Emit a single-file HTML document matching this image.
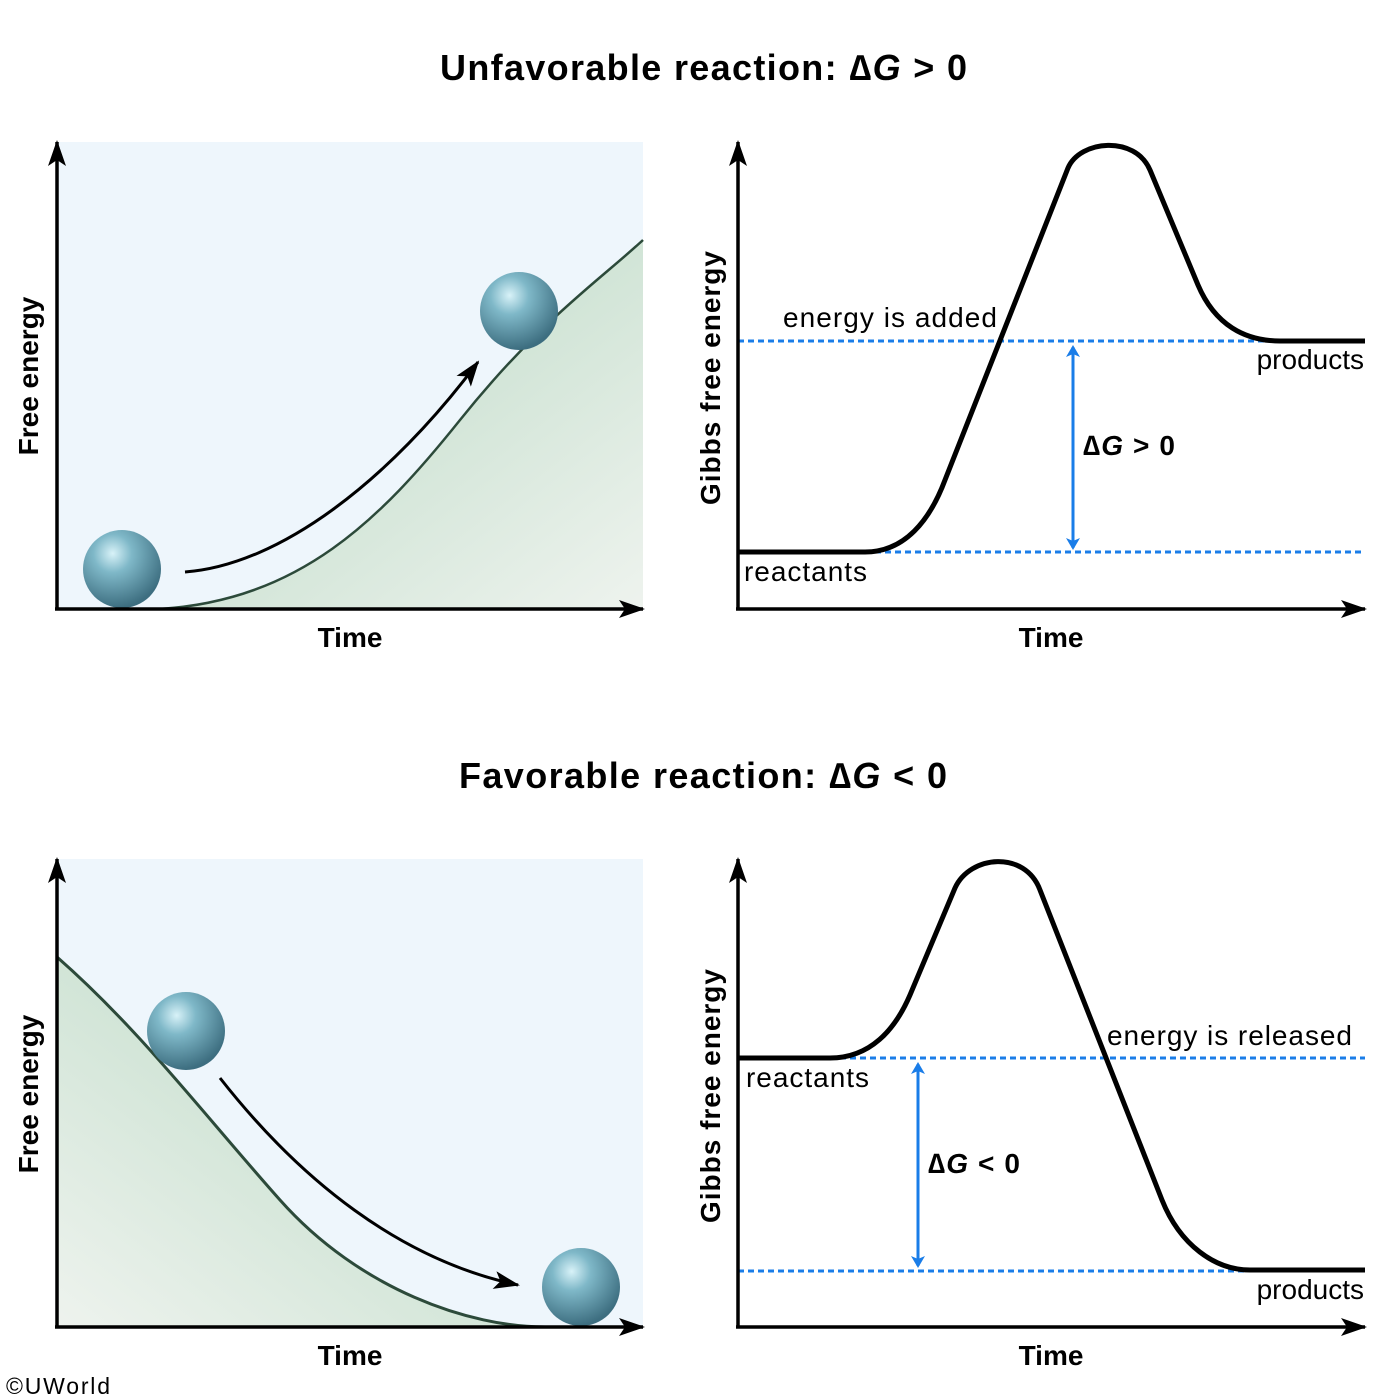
<!DOCTYPE html>
<html><head><meta charset="utf-8"><style>body{margin:0;background:#fff}svg{display:block}text{font-family:"Liberation Sans",Arial,sans-serif}</style></head><body>
<svg width="1400" height="1400" viewBox="0 0 1400 1400" xmlns="http://www.w3.org/2000/svg">
<defs>
<radialGradient id="ball" cx="0.38" cy="0.3" r="0.7">
<stop offset="0" stop-color="#d8f2f8"/><stop offset="0.35" stop-color="#7fb8c8"/><stop offset="1" stop-color="#3d6e80"/></radialGradient>
<linearGradient id="g1" x1="0" y1="0" x2="1" y2="1"><stop offset="0" stop-color="#b4d6bf"/><stop offset="1" stop-color="#eef3ee"/></linearGradient>
<linearGradient id="g2" x1="1" y1="0" x2="0" y2="1"><stop offset="0" stop-color="#b4d6bf"/><stop offset="1" stop-color="#eef3ee"/></linearGradient>
<marker id="ab" markerWidth="12" markerHeight="14" refX="10" refY="7" orient="auto" markerUnits="userSpaceOnUse"><path d="M0,0 L12,7 L0,14 L3,7 Z" fill="#1a7de8"/></marker>
<marker id="ak" markerWidth="26" markerHeight="18" refX="24" refY="9" orient="auto" markerUnits="userSpaceOnUse"><path d="M0,0 L26,9 L0,18 L6,9 Z" fill="#000"/></marker>
</defs>
<text x="440" y="80" font-size="36" font-weight="bold" textLength="527" lengthAdjust="spacing">Unfavorable reaction:  ∆<tspan font-style="italic">G</tspan> &gt; 0</text>
<text x="459" y="788" font-size="36" font-weight="bold" textLength="488" lengthAdjust="spacing">Favorable reaction:  ∆<tspan font-style="italic">G</tspan> &lt; 0</text>

<!-- top-left -->
<rect x="57" y="142" width="586" height="467" fill="#eef6fc"/>
<path d="M160 609 C 300 600, 380 520, 460 420 S 600 280, 643 240 L643 609 Z" fill="url(#g1)" stroke="none"/>
<path d="M160 609 C 300 600, 380 520, 460 420 S 600 280, 643 240" fill="none" stroke="#2c4a3a" stroke-width="2.5"/>
<path d="M185 572 C 280 565, 390 480, 478 362" fill="none" stroke="#000" stroke-width="3" marker-end="url(#ak)"/>
<circle cx="122" cy="569" r="39" fill="url(#ball)"/>
<circle cx="519" cy="311" r="39" fill="url(#ball)"/>
<line x1="57" y1="609" x2="57" y2="142" stroke="#000" stroke-width="3.5" marker-end="url(#ak)"/>
<line x1="55" y1="609" x2="643" y2="609" stroke="#000" stroke-width="3.5" marker-end="url(#ak)"/>
<text x="350" y="647" font-size="28" font-weight="bold" text-anchor="middle">Time</text>
<text transform="translate(38 376) rotate(-90)" font-size="28" font-weight="bold" text-anchor="middle">Free energy</text>

<!-- top-right -->
<line x1="738" y1="341" x2="1365" y2="341" stroke="#1a7de8" stroke-width="3" stroke-dasharray="6 4"/>
<line x1="865" y1="552" x2="1365" y2="552" stroke="#1a7de8" stroke-width="3" stroke-dasharray="6 4"/>
<path d="M738 552 L865 552 C 905 552, 930 520, 945 480 L1068 168 C 1080 140, 1135 135, 1150 170 L1198 285 C 1215 325, 1245 341, 1280 341 L1365 341" fill="none" stroke="#000" stroke-width="5"/>
<line x1="1073" y1="540" x2="1073" y2="347" stroke="#1a7de8" stroke-width="3" marker-end="url(#ab)"/>
<line x1="1073" y1="360" x2="1073" y2="548" stroke="#1a7de8" stroke-width="3" marker-end="url(#ab)"/>
<line x1="738" y1="609" x2="738" y2="142" stroke="#000" stroke-width="3.5" marker-end="url(#ak)"/>
<line x1="736" y1="609" x2="1365" y2="609" stroke="#000" stroke-width="3.5" marker-end="url(#ak)"/>
<text x="1051" y="647" font-size="28" font-weight="bold" text-anchor="middle">Time</text>
<text transform="translate(720 378) rotate(-90)" font-size="28" font-weight="bold" text-anchor="middle" textLength="254">Gibbs free energy</text>
<text x="783" y="327" font-size="28" textLength="214">energy is added</text>
<text x="1364" y="369" font-size="28" text-anchor="end">products</text>
<text x="744" y="581" font-size="28" textLength="123">reactants</text>
<text x="1083" y="455" font-size="28" font-weight="bold" textLength="92">∆<tspan font-style="italic">G</tspan> &gt; 0</text>

<!-- bottom-left -->
<rect x="57" y="859" width="586" height="468" fill="#eef6fc"/>
<path d="M57 957 C 140 1030, 200 1110, 280 1200 S 470 1327, 545 1327 L57 1327 Z" fill="url(#g2)"/>
<path d="M57 957 C 140 1030, 200 1110, 280 1200 S 470 1327, 545 1327" fill="none" stroke="#2c4a3a" stroke-width="3"/>
<path d="M220 1078 C 300 1180, 400 1260, 518 1285" fill="none" stroke="#000" stroke-width="3" marker-end="url(#ak)"/>
<circle cx="186" cy="1031" r="39" fill="url(#ball)"/>
<circle cx="581" cy="1287" r="39" fill="url(#ball)"/>
<line x1="57" y1="1327" x2="57" y2="859" stroke="#000" stroke-width="3.5" marker-end="url(#ak)"/>
<line x1="55" y1="1327" x2="643" y2="1327" stroke="#000" stroke-width="3.5" marker-end="url(#ak)"/>
<text x="350" y="1365" font-size="28" font-weight="bold" text-anchor="middle">Time</text>
<text transform="translate(38 1094) rotate(-90)" font-size="28" font-weight="bold" text-anchor="middle">Free energy</text>

<!-- bottom-right -->
<line x1="840" y1="1058" x2="1365" y2="1058" stroke="#1a7de8" stroke-width="3" stroke-dasharray="6 4"/>
<line x1="738" y1="1271" x2="1245" y2="1271" stroke="#1a7de8" stroke-width="3" stroke-dasharray="6 4"/>
<path d="M738 1058 L830 1058 C 870 1058, 895 1030, 910 995 L955 888 C 970 855, 1025 850, 1040 890 L1162 1200 C 1180 1245, 1215 1270, 1250 1270 L1365 1270" fill="none" stroke="#000" stroke-width="5"/>
<line x1="918" y1="1257" x2="918" y2="1064" stroke="#1a7de8" stroke-width="3" marker-end="url(#ab)"/>
<line x1="918" y1="1075" x2="918" y2="1266" stroke="#1a7de8" stroke-width="3" marker-end="url(#ab)"/>
<line x1="738" y1="1327" x2="738" y2="859" stroke="#000" stroke-width="3.5" marker-end="url(#ak)"/>
<line x1="736" y1="1327" x2="1365" y2="1327" stroke="#000" stroke-width="3.5" marker-end="url(#ak)"/>
<text x="1051" y="1365" font-size="28" font-weight="bold" text-anchor="middle">Time</text>
<text transform="translate(720 1096) rotate(-90)" font-size="28" font-weight="bold" text-anchor="middle" textLength="254">Gibbs free energy</text>
<text x="1107" y="1045" font-size="28" textLength="245">energy is released</text>
<text x="1364" y="1299" font-size="28" text-anchor="end">products</text>
<text x="746" y="1087" font-size="28" textLength="123">reactants</text>
<text x="928" y="1173" font-size="28" font-weight="bold" textLength="92">∆<tspan font-style="italic">G</tspan> &lt; 0</text>

<text x="6" y="1394" font-size="23" textLength="104">©UWorld</text>
</svg>
</body></html>
